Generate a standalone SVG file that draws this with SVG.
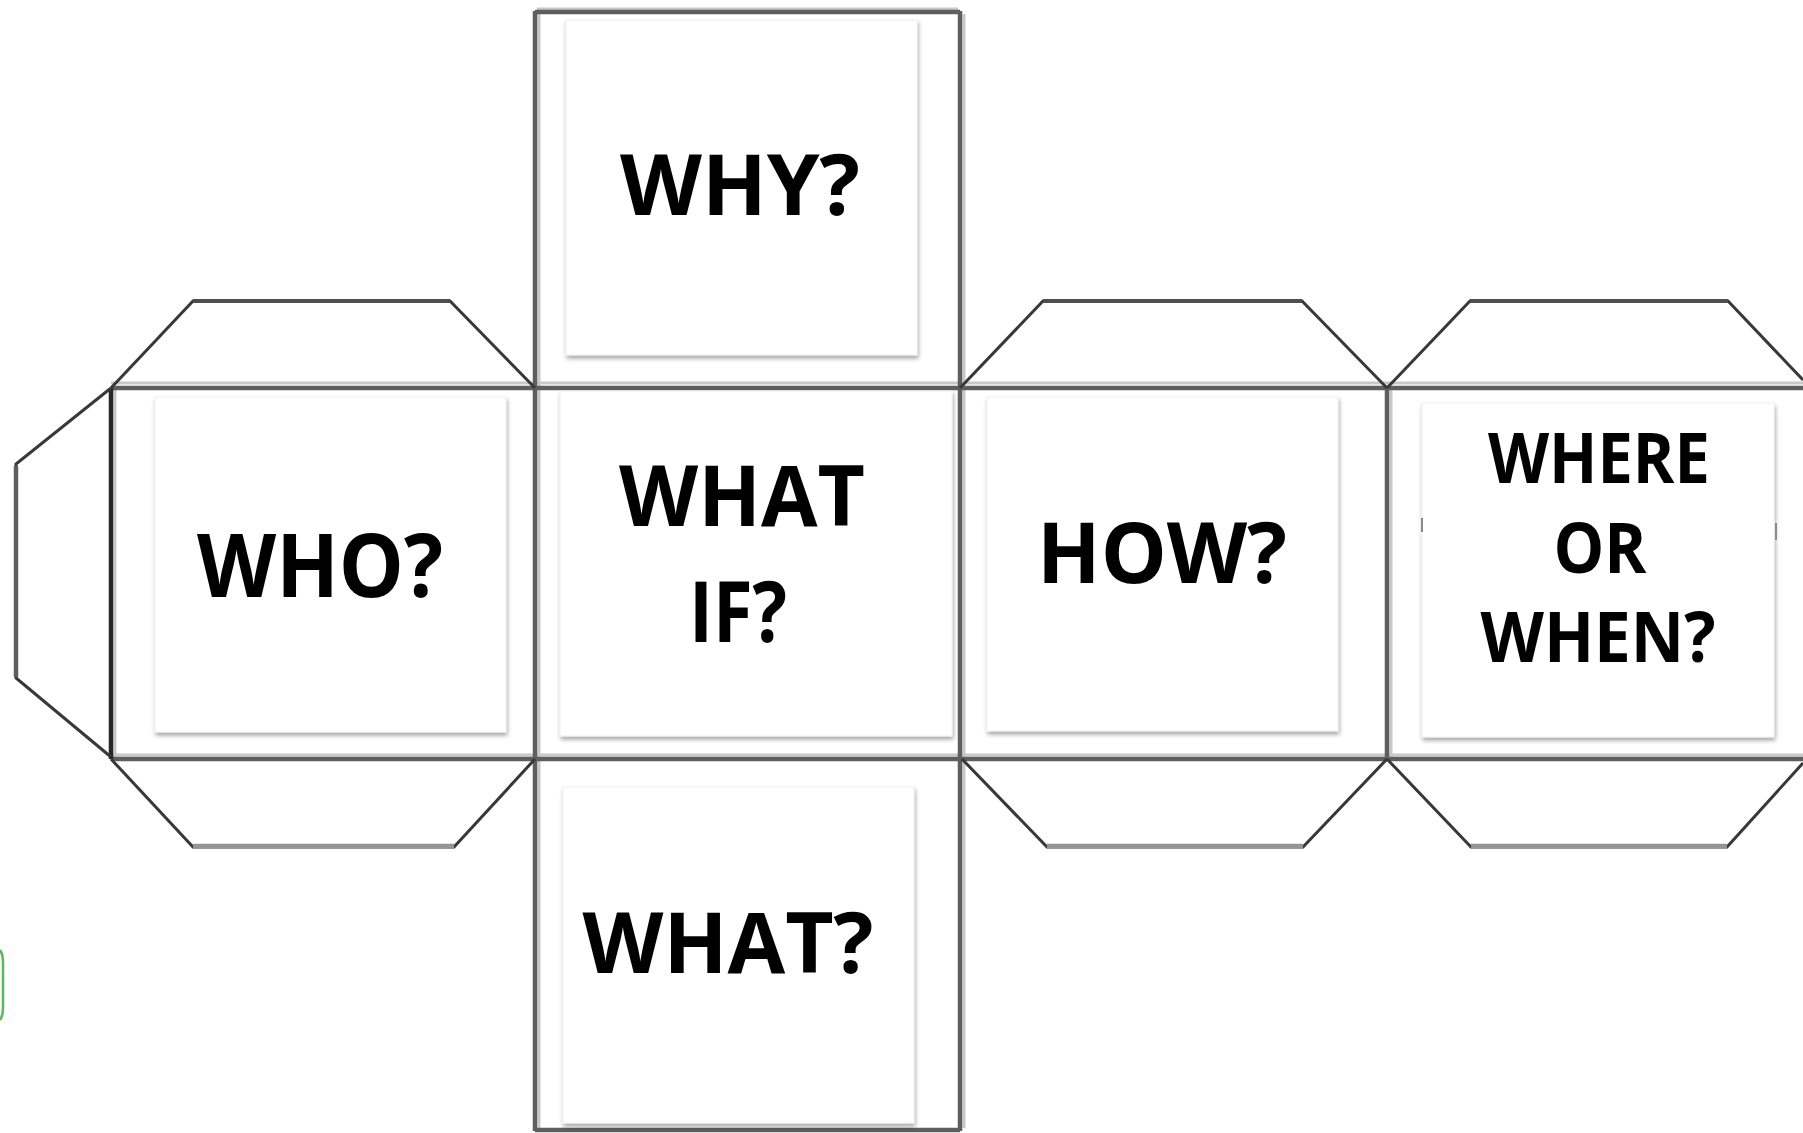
<svg xmlns="http://www.w3.org/2000/svg" width="1803" height="1133" viewBox="0 0 1803 1133">
  <style>
    .face { fill: #ffffff; stroke: #f0f0f0; stroke-width: 1; filter: url(#shadow); }
    .lbl { font-family: "Open Sans", "Liberation Sans", sans-serif; font-weight: 700; fill: #000000; text-anchor: middle; }
    .grid { stroke: #5e5e5e; stroke-width: 4.5; fill: none; }
    .gridlight { stroke: #c8c8c8; stroke-width: 3; fill: none; }
    .dark { stroke: #262626; stroke-width: 4.5; fill: none; }
    .flap { stroke: #383838; stroke-width: 3; fill: none; stroke-linejoin: miter; }
    .flapbot { stroke: #959595; stroke-width: 4.5; fill: none; }
    .flaptop { stroke: #4e4e4e; stroke-width: 4; fill: none; }
  </style>
  <defs>
    <filter id="shadow" x="-5%" y="-5%" width="112%" height="112%">
      <feDropShadow dx="1" dy="3" stdDeviation="2" flood-color="#000000" flood-opacity="0.35"/>
    </filter>
  </defs>
  <rect x="0" y="0" width="1803" height="1133" fill="#ffffff"/>

  <g id="connectors">
    <line class="gridlight" x1="111" y1="383" x2="1803" y2="383"/>
    <line class="gridlight" x1="111" y1="755" x2="1803" y2="755"/>
    <line class="gridlight" x1="539" y1="14" x2="539" y2="1128"/>
    <line class="gridlight" x1="964" y1="14" x2="964" y2="1128"/>
    <line class="gridlight" x1="1391" y1="390" x2="1391" y2="757"/>
    <line class="gridlight" x1="115" y1="390" x2="115" y2="757"/>
    <line class="gridlight" x1="537" y1="9" x2="958" y2="9"/>
    <line class="grid" x1="111" y1="388" x2="1803" y2="388"/>
    <line class="grid" x1="111" y1="759" x2="1803" y2="759"/>
    <line class="grid" x1="535" y1="11" x2="535" y2="1131"/>
    <line class="grid" x1="960" y1="11" x2="960" y2="1131"/>
    <line class="grid" x1="1387" y1="388" x2="1387" y2="759"/>
    <line class="dark" x1="111" y1="388" x2="111" y2="759"/>
    <line class="grid" x1="535" y1="12" x2="960" y2="12"/>
    <line class="grid" x1="535" y1="1130" x2="960" y2="1130"/>
    <polyline class="flap" points="111,388 193,301 450,301 535,388"/>
    <line class="flaptop" x1="193" y1="301" x2="450" y2="301"/>
    <polyline class="flap" points="111,759 193,847 454,847 535,759"/>
    <line class="flapbot" x1="193" y1="846" x2="454" y2="846"/>
    <polyline class="flap" points="111,388 16,464 16,678 111,757"/>
    <line class="grid" x1="16" y1="466" x2="16" y2="677"/>
    <polyline class="flap" points="960,388 1043,301 1302,301 1387,388"/>
    <line class="flaptop" x1="1043" y1="301" x2="1302" y2="301"/>
    <polyline class="flap" points="962,759 1047,847 1303,847 1387,759"/>
    <line class="flapbot" x1="1047" y1="846" x2="1303" y2="846"/>
    <polyline class="flap" points="1387,388 1470,301 1728,301 1803,380"/>
    <line class="flaptop" x1="1470" y1="301" x2="1728" y2="301"/>
    <polyline class="flap" points="1387,759 1471,847 1727,847 1803,763"/>
    <line class="flapbot" x1="1471" y1="846" x2="1727" y2="846"/>
  </g>

  <g id="face-why">
    <rect class="face" x="566" y="20" width="351" height="335"/>
    <text class="lbl" x="740" y="215" font-size="84" textLength="240" lengthAdjust="spacingAndGlyphs">WHY?</text>
  </g>

  <g id="face-who">
    <rect class="face" x="155" y="397" width="351" height="335"/>
    <text class="lbl" x="320" y="597" font-size="88" textLength="246" lengthAdjust="spacingAndGlyphs">WHO?</text>
  </g>

  <g id="face-what-if">
    <rect class="face" x="560" y="391" width="392" height="345"/>
    <text class="lbl" x="742" y="526" font-size="85" textLength="246" lengthAdjust="spacingAndGlyphs">WHAT</text>
    <text class="lbl" x="738" y="642" font-size="85" textLength="98" lengthAdjust="spacingAndGlyphs">IF?</text>
  </g>

  <g id="face-how">
    <rect class="face" x="987" y="397" width="351" height="334"/>
    <text class="lbl" x="1162" y="583" font-size="85" textLength="250" lengthAdjust="spacingAndGlyphs">HOW?</text>
  </g>

  <g id="face-where-when">
    <rect class="face" x="1422" y="403" width="352" height="334"/>
    <text class="lbl" x="1599" y="483" font-size="69" textLength="222" lengthAdjust="spacingAndGlyphs">WHERE</text>
    <text class="lbl" x="1600" y="573" font-size="69" textLength="93" lengthAdjust="spacingAndGlyphs">OR</text>
    <text class="lbl" x="1598" y="662" font-size="69" textLength="235" lengthAdjust="spacingAndGlyphs">WHEN?</text>
    <rect x="1421" y="518" width="2" height="14" fill="#8a8a8a"/>
    <rect x="1775" y="523" width="2" height="17" fill="#8a8a8a"/>
  </g>

  <g id="face-what">
    <rect class="face" x="563" y="787" width="351" height="336"/>
    <text class="lbl" x="728" y="973" font-size="85" textLength="291" lengthAdjust="spacingAndGlyphs">WHAT?</text>
  </g>

  <path d="M0,950 Q3,954 3,962 L3,1008 Q3,1016 0,1020" fill="none" stroke="#5cb85c" stroke-width="2.5"/>
</svg>
